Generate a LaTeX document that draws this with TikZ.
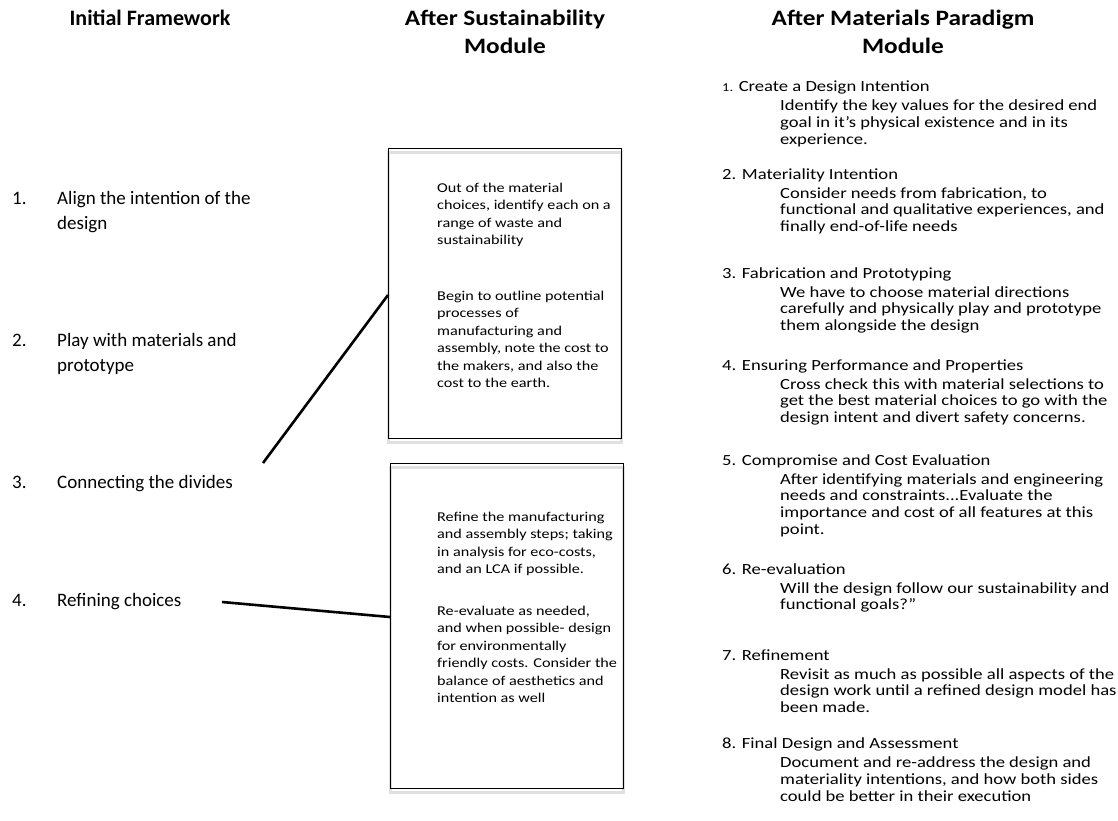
\documentclass[tikz,border=0pt]{standalone}
\usepackage{fontspec}
\setmainfont{Carlito}
\newfontfamily\anchaFont[FakeStretch=1.2]{Carlito}
\newfontfamily\tituloFont[FakeStretch=1.15]{Carlito}
\usetikzlibrary{positioning}
\tikzset{
	every node/.style={inner sep=0pt}, % Sin margen en los nodos
	titulo/.style={font=\bfseries\fontsize{22}{28}\selectfont, align=center}, % Encabezados
	tituloancho/.style={titulo, font=\tituloFont\bfseries\fontsize{22}{28}\selectfont}, % Encabezados del centro y derecha
	paso/.style={font=\fontsize{19}{24.5}\selectfont, align=left, anchor=base west}, % Columna izquierda
	caja/.style={draw, line width=1.1pt, anchor=north west, minimum width=233pt,
		preaction={draw=black!12, line width=3pt, transform canvas={yshift=-3.5pt}}}, % Cajas del centro
	texto/.style={font=\anchaFont\fontsize{13.5}{17.5}\selectfont, align=left, anchor=base west}, % Texto de las cajas
	etapa/.style={font=\anchaFont\fontsize{15.5}{16.7}\selectfont, anchor=base west}, % Etapas a la derecha
	desc/.style={font=\anchaFont\fontsize{15.5}{16.7}\selectfont, align=left, anchor=base west}, % Descripciones
	enlace/.style={line width=2.6pt} % Lineas que unen
}

\begin{document}
\begin{tikzpicture}[x=1pt, y=-1pt]
	\useasboundingbox (0,0) rectangle (1118,820);
	\node[titulo] (h0) at (150,18) {Initial Framework};
	\node[tituloancho] (h1) at (505,32) {After Sustainability\\Module};
	\node[tituloancho] (h2) at (903,32) {After Materials Paradigm\\Module};

	% la base de cada nodo es su ultima linea
	\node[paso] (n1) at (12,204.5) {1.};
	\node[paso] (l1) at (57,229) {Align the intention of the\\design};
	\node[paso] (n2) at (12,346.5) {2.};
	\node[paso] (l2) at (57,371) {Play with materials and\\prototype};
	\node[paso] (n3) at (12,488.5) {3.};
	\node[paso] (l3) at (57,488.5) {Connecting the divides};
	\node[paso] (n4) at (12,606.5) {4.};
	\node[paso] (l4) at (57,606.5) {Refining choices};

	\node[caja, minimum height=290pt] (b1) at (388,148) {};
	\node[texto] (t1) at (437,244.5) {Out of the material\\choices, identify each on a\\range of waste and\\sustainability};
	\node[texto] (t2) at (437,387.5) {Begin to outline potential\\processes of\\manufacturing and\\assembly, note the cost to\\the makers, and also the\\cost to the earth.};
	\node[caja, minimum height=325pt] (b2) at (390,463) {};
	\node[texto] (t3) at (437,573.5) {Refine the manufacturing\\and assembly steps; taking\\in analysis for eco-costs,\\and an LCA if possible.};
	\node[texto] (t4) at (437,702.5) {Re-evaluate as needed,\\and when possible- design\\for environmentally\\friendly costs. Consider the\\balance of aesthetics and\\intention as well};

	\coordinate (c3) at (263,463);
	\coordinate (c4) at (222,602);
	\draw[enlace] (c3) -- (b1.west |- 0,295);
	\draw[enlace] (c4) -- (b2.west |- 0,617);

	\node[etapa] (p1) at (722,91.6) {{\fontsize{12}{12}\selectfont 1.} Create a Design Intention};
	\node[desc] (d1) at (780,144) {Identify the key values for the desired end\\goal in it’s physical existence and in its\\experience.};
	\node[etapa] (p2) at (722,179) {2. Materiality Intention};
	\node[desc] (d2) at (780,231.4) {Consider needs from fabrication, to\\functional and qualitative experiences, and\\finally end-of-life needs};
	\node[etapa] (p3) at (722,278) {3. Fabrication and Prototyping};
	\node[desc] (d3) at (780,330.4) {We have to choose material directions\\carefully and physically play and prototype\\them alongside the design};
	\node[etapa] (p4) at (722,370) {4. Ensuring Performance and Properties};
	\node[desc] (d4) at (780,422.4) {Cross check this with material selections to\\get the best material choices to go with the\\design intent and divert safety concerns.};
	\node[etapa] (p5) at (722,465) {5. Compromise and Cost Evaluation};
	\node[desc] (d5) at (780,534.1) {After identifying materials and engineering\\needs and constraints...Evaluate the\\importance and cost of all features at this\\point.};
	\node[etapa] (p6) at (722,574) {6. Re-evaluation};
	\node[desc] (d6) at (780,609.7) {Will the design follow our sustainability and\\functional goals?”};
	\node[etapa] (p7) at (722,660) {7. Refinement};
	\node[desc] (d7) at (780,712.4) {Revisit as much as possible all aspects of the\\design work until a refined design model has\\been made.};
	\node[etapa] (p8) at (722,748.6) {8. Final Design and Assessment};
	\node[desc] (d8) at (780,801) {Document and re-address the design and\\materiality intentions, and how both sides\\could be better in their execution};
\end{tikzpicture}
\end{document}
